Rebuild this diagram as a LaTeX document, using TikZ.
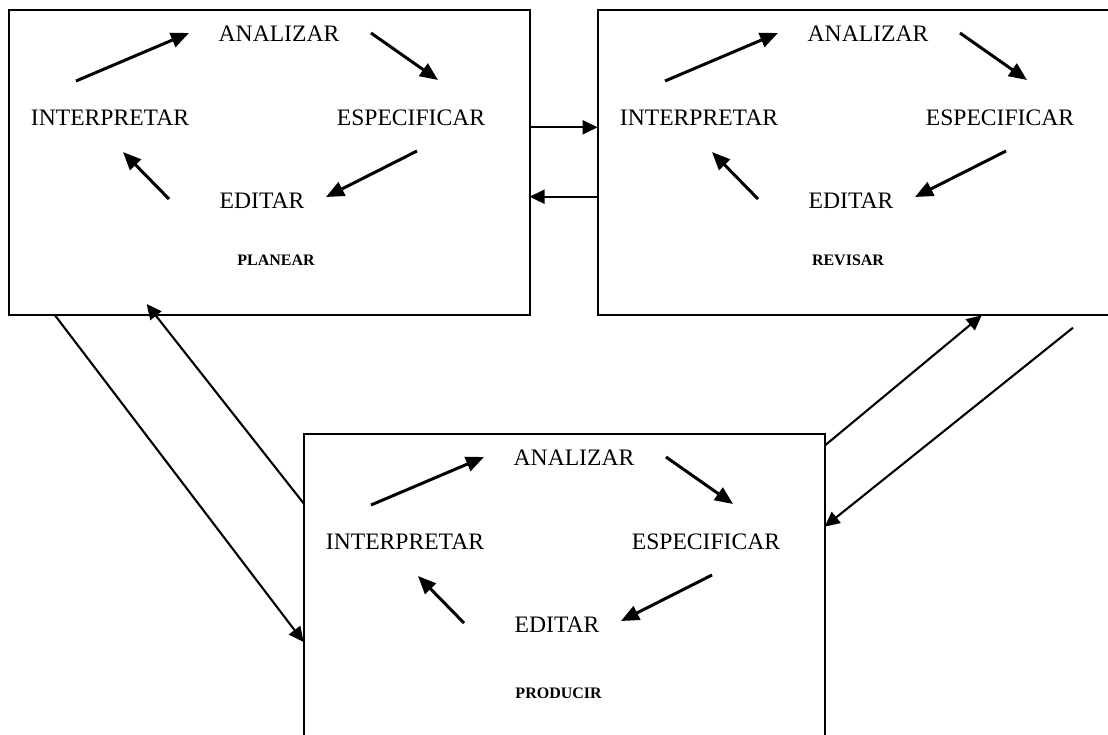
\documentclass[tikz,border=0pt]{standalone}
\usepackage{fontspec}
\setmainfont{Liberation Serif}
\usetikzlibrary{arrows.meta,calc}
\tikzset{
  stagebox/.style={draw, line width=2.1pt, rectangle, minimum width=521pt, minimum height=305pt, inner sep=0pt, outer sep=0pt},
  word/.style={anchor=base, inner sep=0pt, font=\fontsize{23.6}{28}\selectfont},
  stagelabel/.style={anchor=base, inner sep=0pt, font=\fontsize{16}{19}\selectfont\bfseries},
  cyc/.style={line width=3pt, -{Triangle[length=18pt,width=15pt]}},
  link/.style={line width=2.1pt, -{Triangle[length=15pt,width=14pt]}},
}
\newcommand\stagecontent[4]{%
  \node[stagebox] (#1) at (269.1,162.8) {};
  \node[word] (#1-an) at (279,41.7) {ANALIZAR};
  \node[word] (#1-in) at (110,125) {INTERPRETAR};
  \node[word] (#1-es) at (411,125) {ESPECIFICAR};
  \node[word] (#1-ed) at (262,208) {EDITAR};
  \node[stagelabel] (#1-lb) at (#3,#4) {#2};
  \coordinate (#1-a1) at (76,81);   \coordinate (#1-a2) at (189,33);
  \coordinate (#1-b1) at (371,33);  \coordinate (#1-b2) at (438,80);
  \coordinate (#1-c1) at (417,151); \coordinate (#1-c2) at (326,197);
  \coordinate (#1-d1) at (169,199); \coordinate (#1-d2) at (123,152);
  \draw[cyc] (#1-a1) -- (#1-a2);
  \draw[cyc] (#1-b1) -- (#1-b2);
  \draw[cyc] (#1-c1) -- (#1-c2);
  \draw[cyc] (#1-d1) -- (#1-d2);
}
\begin{document}
\begin{tikzpicture}[x=1pt,y=-1pt]
  \useasboundingbox (0,0) rectangle (1108,734);
  \fill[white] (0,0) rectangle (1108,734);
  \clip (0,0) rectangle (1108,734);
  \begin{scope}
    \stagecontent{box1}{PLANEAR}{276}{265}
  \end{scope}
  \begin{scope}[shift={(589,0)}]
    \stagecontent{box2}{REVISAR}{259}{265}
  \end{scope}
  \begin{scope}[shift={(295,424)}]
    \stagecontent{box3}{PRODUCIR}{263.6}{274.3}
  \end{scope}
  % links between stages
  \draw[link] ($(box1.north east)+(0,117)$) -- ($(box2.north west)+(0,117)$);
  \draw[link] ($(box2.north west)+(0,186.4)$) -- ($(box1.north east)+(0,186.4)$);
  \draw[link] ($(box1.south west)+(46.4,0)$) -- ($(box3.north west)+(0,207.7)$);
  \draw[link] ($(box3.north west)+(0,69)$) -- ($(box1.south west)+(138.1,-11.3)$);
  \draw[link] ($(box3.north east)+(0,11.4)$) -- ($(box2.south west)+(384.1,0)$);
  \draw[link] ($(box2.south west)+(475.4,12.4)$) -- ($(box3.north east)+(0,92.4)$);
\end{tikzpicture}
\end{document}
